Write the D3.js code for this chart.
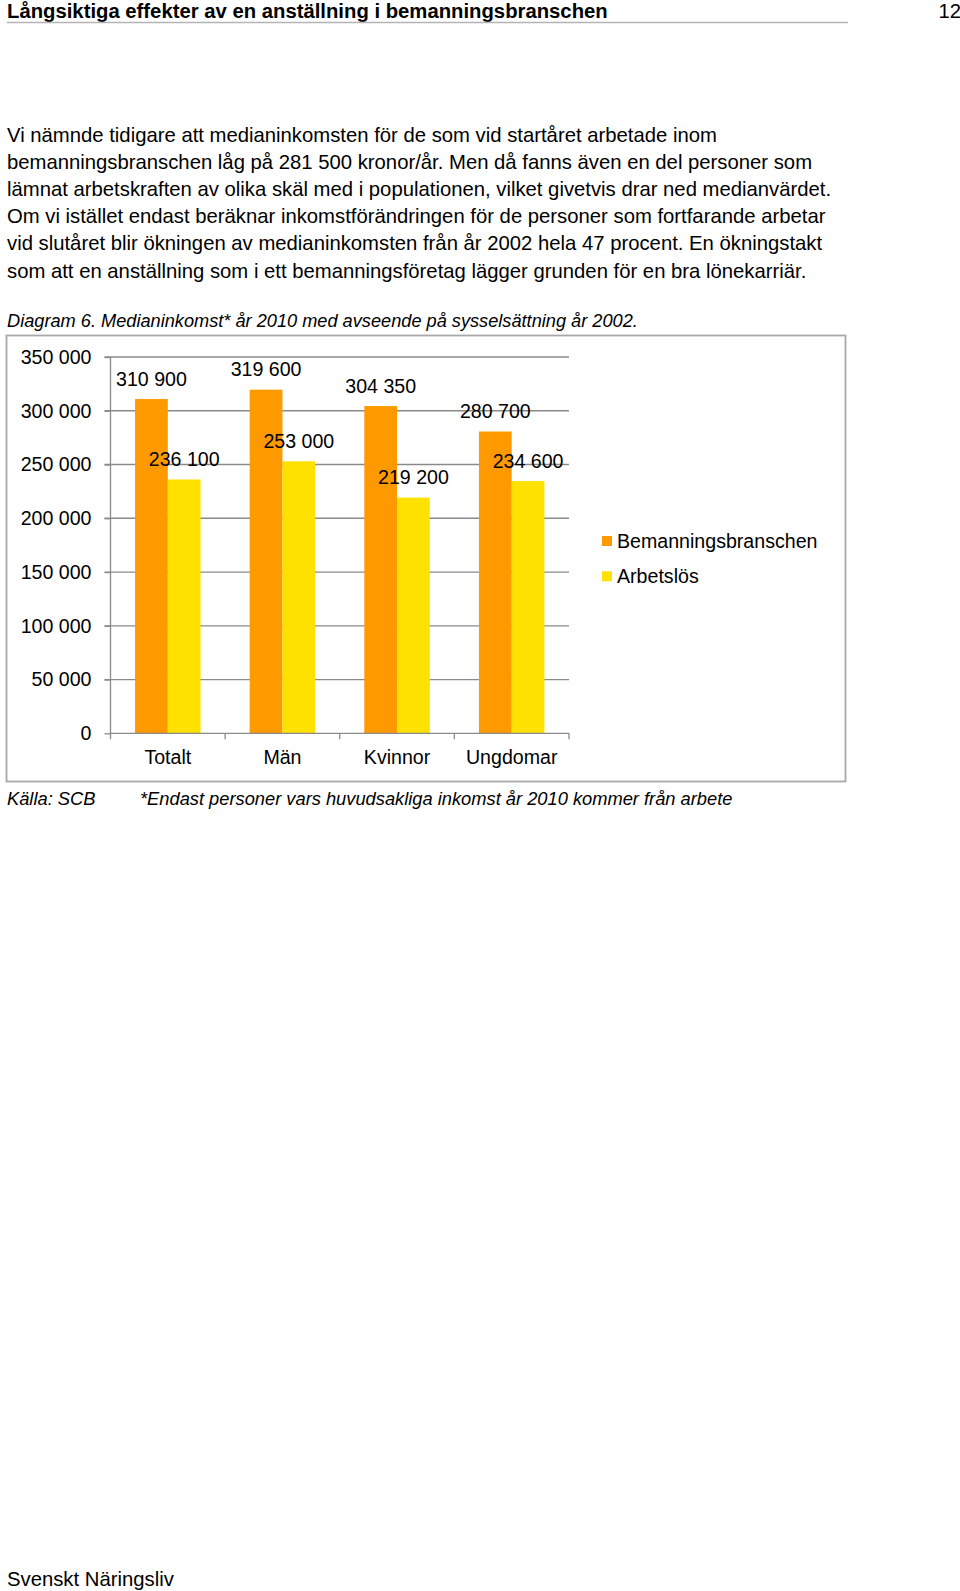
<!DOCTYPE html>
<html lang="sv">
<head>
<meta charset="utf-8">
<script src="https://cdn.jsdelivr.net/npm/d3@7"></script>
<style>
  html, body { margin: 0; padding: 0; background: #fff; }
  svg { display: block; font-family: "Liberation Sans", Arial, sans-serif; }
</style>
</head>
<body>
<svg id="page" width="960" height="1591"></svg>
<script>
// chart data
const categories = ["Totalt", "Män", "Kvinnor", "Ungdomar"];
const seriesNames = ["Bemanningsbranschen", "Arbetslös"];
const bemanning = [310900, 319600, 304350, 280700];
const arbetslos = [236100, 253000, 219200, 234600];
const yTicks = [0, 50000, 100000, 150000, 200000, 250000, 300000, 350000];

const colors = ["#ff9900", "#ffe100"];

const paragraph = [
  "Vi nämnde tidigare att medianinkomsten för de som vid startåret arbetade inom",
  "bemanningsbranschen låg på 281 500 kronor/år. Men då fanns även en del personer som",
  "lämnat arbetskraften av olika skäl med i populationen, vilket givetvis drar ned medianvärdet.",
  "Om vi istället endast beräknar inkomstförändringen för de personer som fortfarande arbetar",
  "vid slutåret blir ökningen av medianinkomsten från år 2002 hela 47 procent. En ökningstakt",
  "som att en anställning som i ett bemanningsföretag lägger grunden för en bra lönekarriär."
];

const fmt = d3.formatLocale({ decimal: ",", thousands: " ", grouping: [3], currency: ["", ""] }).format(",d");

const svg = d3.select("#page");

// page header
svg.append("text")
  .attr("x", 7).attr("y", 17.5)
  .style("font-size", "20.3px").style("font-weight", "bold")
  .text("Långsiktiga effekter av en anställning i bemanningsbranschen");
svg.append("text")
  .attr("x", 961).attr("y", 17.5)
  .attr("text-anchor", "end")
  .style("font-size", "20.3px")
  .text("12");
svg.append("line")
  .attr("x1", 7).attr("x2", 848).attr("y1", 22.5).attr("y2", 22.5)
  .attr("stroke", "#b4b4b4").attr("stroke-width", 1.5);

// body text
svg.append("g").selectAll("text")
  .data(paragraph)
  .join("text")
  .attr("x", 7)
  .attr("y", (d, i) => 142 + i * 27.1)
  .style("font-size", "20.3px")
  .text(d => d);

svg.append("text")
  .attr("x", 7).attr("y", 327)
  .style("font-size", "18.2px").style("font-style", "italic")
  .text("Diagram 6. Medianinkomst* år 2010 med avseende på sysselsättning år 2002.");

// chart frame
svg.append("rect")
  .attr("x", 6.5).attr("y", 335.5)
  .attr("width", 839).attr("height", 446)
  .attr("fill", "#fff")
  .attr("stroke", "#a8a8a8").attr("stroke-width", 1.8);

const plot = { left: 110.5, right: 569, top: 357, bottom: 733.3 };
const labelSize = "19.6px";

const x = d3.scaleBand()
  .domain(categories)
  .range([plot.left, plot.right]);

const xs = d3.scaleBand()
  .domain(seriesNames)
  .range([0, x.bandwidth()])
  .paddingInner(0)
  .paddingOuter(0.75);

const y = d3.scaleLinear()
  .domain([0, 350000])
  .range([plot.bottom, plot.top]);

const chart = svg.append("g");

// gridlines
chart.append("g").selectAll("line")
  .data(yTicks.filter(t => t > 0))
  .join("line")
  .attr("x1", plot.left - 6).attr("x2", plot.right)
  .attr("y1", d => y(d)).attr("y2", d => y(d))
  .attr("stroke", "#8a8a8a").attr("stroke-width", 1.3);

// y axis
const yAxis = chart.append("g")
  .attr("transform", `translate(${plot.left},0)`)
  .call(d3.axisLeft(y).tickValues(yTicks).tickFormat(fmt).tickSize(6).tickPadding(13));
yAxis.selectAll("line, path").attr("stroke", "#8a8a8a").attr("stroke-width", 1.3);
yAxis.select(".domain").attr("d", `M0,${plot.top}V${plot.bottom}`);
yAxis.selectAll("text")
  .attr("fill", "#000")
  .style("font-size", labelSize)
  .style("font-family", "\"Liberation Sans\", Arial, sans-serif");

// bars
const rows = categories.map((c, i) => ({ cat: c, values: [bemanning[i], arbetslos[i]] }));

const groups = chart.append("g").selectAll("g")
  .data(rows)
  .join("g")
  .attr("transform", d => `translate(${x(d.cat)},0)`);

groups.selectAll("rect")
  .data(d => d.values.map((v, j) => ({ name: seriesNames[j], value: v, j })))
  .join("rect")
  .attr("x", d => xs(d.name))
  .attr("y", d => y(d.value))
  .attr("width", xs.bandwidth())
  .attr("height", d => y(0) - y(d.value))
  .attr("fill", d => colors[d.j]);

// x axis
const xTickPos = d3.range(categories.length + 1).map(i => plot.left + i * x.step());
const xAxis = chart.append("g");
xAxis.append("line")
  .attr("x1", plot.left).attr("x2", plot.right)
  .attr("y1", plot.bottom).attr("y2", plot.bottom)
  .attr("stroke", "#8a8a8a").attr("stroke-width", 1.3);
xAxis.selectAll(".tk")
  .data(xTickPos)
  .join("line")
  .attr("class", "tk")
  .attr("x1", d => d).attr("x2", d => d)
  .attr("y1", plot.bottom).attr("y2", plot.bottom + 6)
  .attr("stroke", "#8a8a8a").attr("stroke-width", 1.3);
xAxis.selectAll("text")
  .data(categories)
  .join("text")
  .attr("x", d => x(d) + x.bandwidth() / 2)
  .attr("y", plot.bottom + 31)
  .attr("text-anchor", "middle")
  .style("font-size", labelSize)
  .text(d => d);

// value labels
groups.selectAll("text")
  .data(d => d.values.map((v, j) => ({ name: seriesNames[j], value: v })))
  .join("text")
  .attr("x", d => xs(d.name) + xs.bandwidth() / 2)
  .attr("y", d => y(d.value) - 13.5)
  .attr("text-anchor", "middle")
  .style("font-size", labelSize)
  .text(d => fmt(d.value));

// legend
const legend = chart.append("g").attr("transform", "translate(602,536)");
const li = legend.selectAll("g")
  .data(seriesNames)
  .join("g")
  .attr("transform", (d, i) => `translate(0,${i * 35.3})`);
li.append("rect")
  .attr("width", 10).attr("height", 10)
  .attr("fill", (d, i) => colors[i]);
li.append("text")
  .attr("x", 15).attr("y", 11.5)
  .style("font-size", labelSize)
  .text(d => d);

// notes under the chart
svg.append("text")
  .attr("x", 7).attr("y", 805)
  .style("font-size", "18.3px").style("font-style", "italic")
  .text("Källa: SCB");
svg.append("text")
  .attr("x", 140).attr("y", 805)
  .style("font-size", "18.3px").style("font-style", "italic")
  .text("*Endast personer vars huvudsakliga inkomst år 2010 kommer från arbete");

// footer
svg.append("text")
  .attr("x", 7).attr("y", 1586)
  .style("font-size", "20.3px")
  .text("Svenskt Näringsliv");
</script>
</body>
</html>
